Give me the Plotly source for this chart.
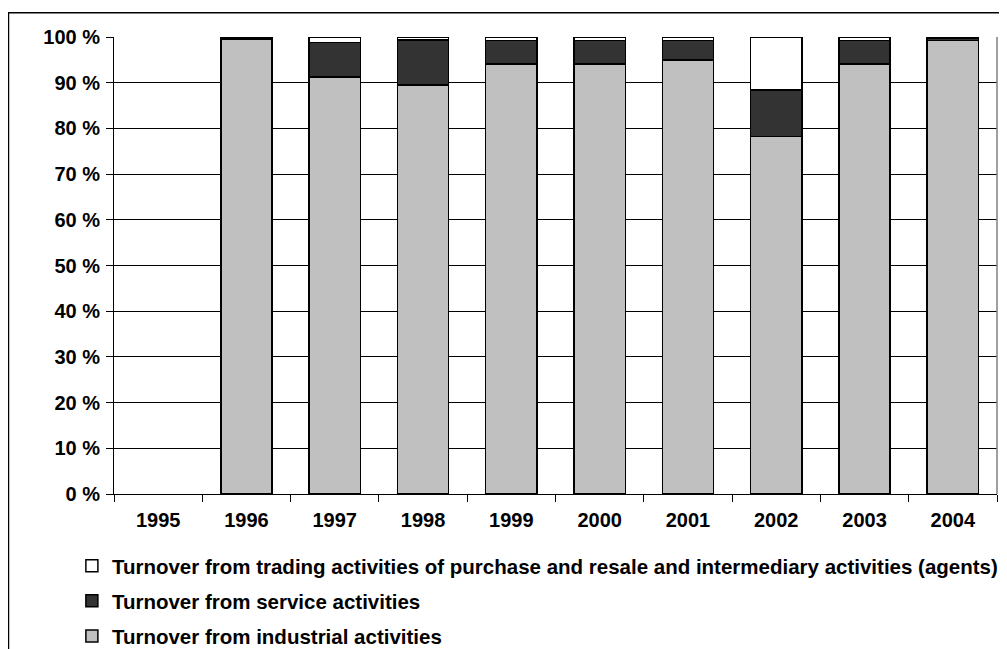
import plotly.graph_objects as go

years = ["1995", "1996", "1997", "1998", "1999", "2000", "2001", "2002", "2003", "2004"]
industrial = [None, 99.6, 91.3, 89.5, 94.1, 94.1, 95.0, 78.2, 94.1, 99.2]
service = [None, 0.3, 7.5, 9.8, 5.1, 5.1, 4.2, 10.2, 5.1, 0.5]
trading = [None, 0.1, 1.2, 0.7, 0.8, 0.8, 0.8, 11.6, 0.8, 0.3]

names = [
    "Turnover from industrial activities",
    "Turnover from service activities",
    "Turnover from trading activities of purchase and resale and intermediary activities (agents)",
]
colors = ["#C0C0C0", "#333333", "#FFFFFF"]
ranks = [3, 2, 1]
series = [industrial, service, trading]

FONT = "Arial, Liberation Sans, sans-serif"

fig = go.Figure()
for i, (nm, col, vals, rk) in enumerate(zip(names, colors, series, ranks)):
    fig.add_trace(go.Bar(
        x=years, y=vals, name=nm, legendgroup=f"g{i}", legendrank=rk,
        marker=dict(color=col, line=dict(color="black", width=1.5)),
    ))

fig.update_layout(
    barmode="stack",
    bargap=0.42,
    width=999, height=641,
    margin=dict(l=106, r=10, t=29, b=155, autoexpand=False),
    paper_bgcolor="white", plot_bgcolor="white",
    font=dict(family=FONT, color="black"),
    showlegend=True,
    legend=dict(
        orientation="v", x=-0.0477, xanchor="left", y=-0.1135, yanchor="top",
        traceorder="grouped", tracegroupgap=5.5,
        font=dict(size=20.5, family=FONT, color="black", weight="bold"),
        bgcolor="rgba(0,0,0,0)",
    ),
    xaxis=dict(
        type="category", showgrid=False, showline=True, linecolor="black", linewidth=1,
        ticks="outside", tickson="boundaries", ticklen=7, tickcolor="black",
        tickfont=dict(size=20, family=FONT, weight="bold"), ticklabelstandoff=8,
    ),
    yaxis=dict(
        range=[0, 100], dtick=10, ticksuffix=" %", showgrid=True, gridcolor="black", gridwidth=1,
        showline=True, linecolor="black", linewidth=1, ticks="outside", ticklen=7, tickcolor="black",
        tickfont=dict(size=20, family=FONT, weight="bold"), ticklabelstandoff=2, zeroline=False,
    ),
    shapes=[
        dict(type="rect", xref="paper", yref="paper", x0=-0.1195, x1=1.03, y0=1.053, y1=-0.5,
             line=dict(color="black", width=1.5), fillcolor="rgba(0,0,0,0)", layer="above"),
        dict(type="line", xref="paper", yref="paper", x0=1, x1=1, y0=0, y1=1,
             line=dict(color="#808080", width=1.5)),
    ],
)

fig.write_html("out.html")
